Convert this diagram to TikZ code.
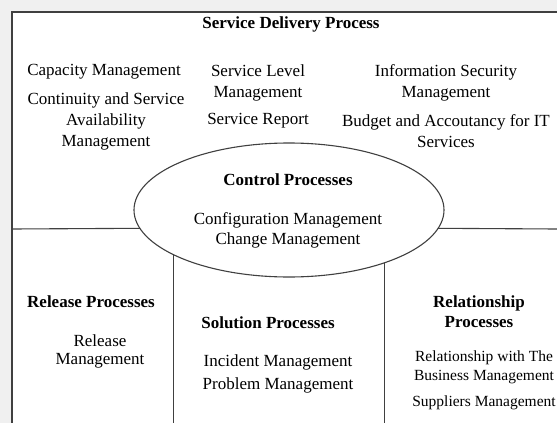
\documentclass[tikz,border=0pt]{standalone}
\usepackage{fontspec}
\setmainfont{Liberation Serif}
\usetikzlibrary{shapes.geometric}

\begin{document}
\begin{tikzpicture}[x=1pt, y=-1pt,
    txt/.style={align=center, inner sep=0pt, font=\fontsize{17pt}{21pt}\selectfont},
    txtb/.style={align=center, inner sep=0pt, font=\fontsize{17pt}{18pt}\selectfont},
    txts/.style={align=center, inner sep=0pt, font=\fontsize{15.5pt}{19.5pt}\selectfont},
    hd/.style={align=center, inner sep=0pt, font=\fontsize{17pt}{20pt}\selectfont\bfseries},
    edge/.style={draw=black!75, line width=1.1pt}]
    \useasboundingbox (0,0) rectangle (557,423);
    \fill[black!6] (0,0) rectangle (557,423);
    \fill[white] (12,12) rectangle (557,423);
    \coordinate (tl) at (12,12);
    \coordinate (tr) at (557,12);
    \coordinate (bl) at (12,423);
    \coordinate (ml) at (12,229);
    \coordinate (mr) at (557,229);
    \coordinate (bot) at (0,423);
    \draw[edge] (tr) -- (tl) -- (bl);

    \node[ellipse, edge, minimum width=310pt, minimum height=134pt, inner sep=0pt, outer sep=0pt] (ctrl) at (289,210) {};
    \draw[edge] (ml) -- (ctrl.187);
    \draw[edge] (ctrl.-7) -- (mr);
    \draw[edge] (ctrl.201) -- (ctrl.201 |- bot);
    \draw[edge] (ctrl.-29) -- (ctrl.-29 |- bot);

    \node[hd] (sdp) at (291,24) {Service Delivery Process};
    \node[txt] (cap) at (104,72) {Capacity Management};
    \node[txt] (cont) at (106,121) {Continuity and Service\\Availability\\Management};
    \node[txt] (slm) at (258,82.5) {Service Level\\Management};
    \node[txt] (srep) at (258,121) {Service Report};
    \node[txt] (isec) at (446,82.5) {Information Security\\Management};
    \node[txt] (budg) at (446,131.5) {Budget and Accoutancy for IT\\Services};

    \node[hd] (ctrlp) at (288,180) {Control Processes};
    \node[txt, font=\fontsize{17pt}{20pt}\selectfont] (cfg) at (288,230) {Configuration Management\\Change Management};

    \node[hd] (relp) at (91,302) {Release Processes};
    \node[txtb] (relm) at (100,351) {Release\\Management};
    \node[hd] (solp) at (268,323) {Solution Processes};
    \node[txt] (inc) at (278,362) {Incident Management};
    \node[txt] (prob) at (278,385) {Problem Management};
    \node[hd] (rshp) at (479,312) {Relationship\\Processes};
    \node[txts] (rbm) at (484,367.5) {Relationship with The\\Business Management};
    \node[txts] (supp) at (484,403) {Suppliers Management};
\end{tikzpicture}
\end{document}
